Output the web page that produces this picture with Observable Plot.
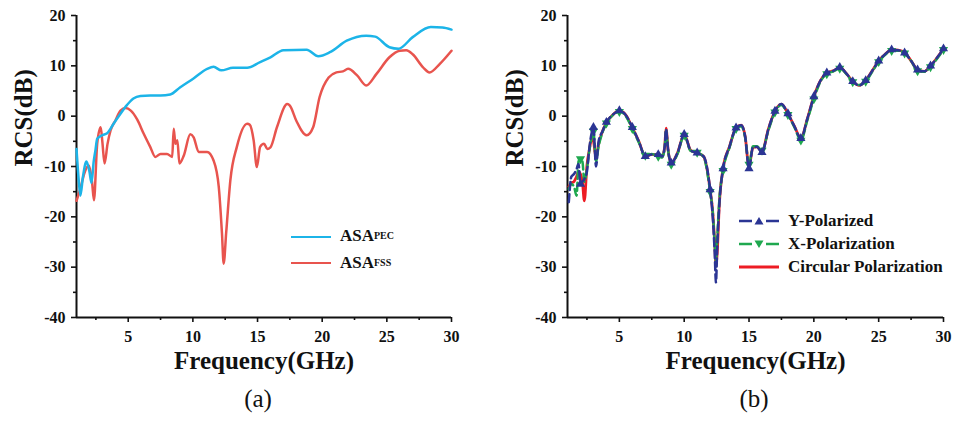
<!DOCTYPE html>
<html><head><meta charset="utf-8">
<script src="https://cdn.jsdelivr.net/npm/d3@7"></script>
<script src="https://cdn.jsdelivr.net/npm/@observablehq/plot@0.6"></script>
<style>
body{margin:0;background:#fff;font-family:"Liberation Serif","Times New Roman",serif;color:#111;}
#wrap{position:relative;width:960px;height:421px;overflow:hidden;}
.panel{position:absolute;top:0;}
.cap{position:absolute;top:384px;font-size:25px;line-height:30px;width:80px;text-align:center;}
.leg{position:absolute;font-weight:bold;font-size:17px;line-height:20px;white-space:nowrap;height:20px;display:flex;align-items:center;}
.leg sub{font-size:10px;vertical-align:-6px;}
.swatch{position:absolute;height:0;}
</style>
</head><body>
<div id="wrap">
  <div class="panel" id="pa" style="left:0"></div>
  <div class="panel" id="pb" style="left:480px"></div>
  <div class="cap" style="left:218px">(a)</div>
  <div class="cap" style="left:714px">(b)</div>

  <div class="swatch" style="left:291px;top:235.5px;width:40px;border-top:2.5px solid #1cb4e8"></div>
  <div class="leg" style="left:340px;top:226px">ASA<sub>PEC</sub></div>
  <div class="swatch" style="left:291px;top:262px;width:40px;border-top:2.5px solid #e8544e"></div>
  <div class="leg" style="left:340px;top:253px">ASA<sub>FSS</sub></div>

  <svg style="position:absolute;left:738px;top:215px" width="44" height="60">
    <line x1="1" x2="41" y1="6" y2="6" stroke="#2b3594" stroke-width="2.5" stroke-dasharray="13,14,13"/>
    <path d="M21,2 L25.5,9.5 L16.5,9.5 Z" fill="#2b3594"/>
    <line x1="1" x2="41" y1="29" y2="29" stroke="#1fa84f" stroke-width="2.5" stroke-dasharray="13,14,13"/>
    <path d="M21,33 L25.5,25.5 L16.5,25.5 Z" fill="#1fa84f"/>
    <line x1="1" x2="41" y1="52" y2="52" stroke="#ed1c24" stroke-width="3"/>
  </svg>
  <div class="leg" style="left:788px;top:211px">Y-Polarized</div>
  <div class="leg" style="left:788px;top:234px">X-Polarization</div>
  <div class="leg" style="left:788px;top:257px">Circular Polarization</div>
</div>
<script>
// ---------- data ----------
const xDomain = [1, 30];
const yDomain = [-40, 20];
const xMajor = [5, 10, 15, 20, 25, 30];
const xMinor = [2.5, 7.5, 12.5, 17.5, 22.5, 27.5];
const yMajor = [-40, -30, -20, -10, 0, 10, 20];
const yMinor = [-35, -25, -15, -5, 5, 15];

// Panel (a)
const pecFreq = [1.0,1.15,1.3,1.5,1.77,2.0,2.16,2.33,2.47,2.6,2.98,3.37,3.88,4.4,4.9,5.4,5.94,6.7,7.5,8.25,9.0,10.05,11.1,11.6,12.2,13.1,14.2,15.2,16.0,17.0,18.8,19.7,20.6,21.9,23.4,24.1,25.2,25.9,27.0,28.4,29.3,30];
const pecVal  = [-6.5,-12,-15.8,-12,-9.0,-11,-13.3,-9,-6.7,-4.5,-3.8,-3.4,-1.45,0.5,2.2,3.5,4.0,4.1,4.1,4.3,5.7,7.5,9.4,9.8,9.1,9.6,9.6,10.75,11.7,13.1,13.2,11.9,12.7,15.0,16.0,15.8,13.7,13.4,15.7,17.7,17.6,17.2];
const fssFreq = [1.0,1.3,1.6,1.95,2.2,2.35,2.6,2.87,3.0,3.17,3.4,3.64,4.0,4.4,4.8,5.2,5.7,6.2,6.7,7.1,7.5,8.0,8.4,8.52,8.65,8.8,8.96,9.3,9.8,10.06,10.45,11.1,11.6,12.0,12.25,12.38,12.58,12.9,13.4,14.2,14.4,14.7,14.95,15.2,15.5,15.75,16.0,16.5,17.3,17.5,18.0,18.8,19.3,19.8,20.5,21.1,21.6,22.0,22.7,23.4,24.2,25.2,26.0,26.5,27.0,27.8,28.3,29.1,30];
const fssVal  = [-16.8,-14.4,-11.4,-9.8,-13,-16.7,-5.5,-2.2,-5.1,-9.4,-5.5,-2.8,-0.9,1.1,1.6,1.1,-0.7,-3.5,-6.1,-8.1,-7.5,-7.5,-8.1,-2.5,-5.5,-4.8,-9.4,-7.8,-3.6,-4.2,-7.1,-7.1,-8.8,-14,-23.3,-29.3,-23,-12.7,-6.1,-1.5,-1.7,-4.8,-10.1,-6.1,-5.5,-6.5,-6.2,-2.2,2.4,2.1,-0.9,-3.8,-2.2,3.8,7.7,8.7,8.9,9.4,8.1,6.1,8.4,11.7,13.0,13.1,12.3,9.7,8.7,10.4,13.0];

// Panel (b)
const bFreq = [1.1,1.3,1.5,1.7,1.85,2,2.15,2.3,2.5,2.7,2.85,3,3.2,3.4,3.7,4,4.5,5,5.5,6,6.5,7,7.5,8,8.3,8.5,8.6,8.75,9,9.5,10,10.5,11,11.5,12,12.2,12.35,12.45,12.55,12.7,13,13.5,14,14.4,14.7,15,15.3,15.6,16,16.5,17,17.5,18,18.5,19,19.5,20,20.5,21,21.5,22,22.5,23,23.5,24,24.5,25,25.5,26,26.5,27,27.5,28,28.5,29,29.5,30];
const yPol = [-17.1,-12,-11.5,-10.5,-9.5,-13.5,-13,-12.5,-11,-6,-3.5,-2.2,-10,-5,-3,-1.2,0.3,1.1,0.2,-2.2,-5,-8.0,-7.6,-7.6,-8,-6,-2.6,-6.5,-9.3,-7.2,-3.6,-6.8,-7.3,-8,-14.6,-20,-27,-33,-26,-18,-10.4,-6,-2.3,-1.8,-4,-10.4,-6.2,-6.1,-7.2,-2.5,1.0,2.4,0.5,-2,-4.4,-0.5,3.9,7,8.6,9,9.7,8.5,6.9,6.1,7.1,9,11.0,12.3,13.2,13.1,12.6,11,9.2,8.9,10,11.6,13.4];
const xPol = [-14.5,-13.5,-14,-15.8,-9,-8.5,-9,-13,-10.5,-6.5,-4.5,-3,-9,-6,-3.2,-1.4,0.2,0.9,0,-2.5,-5.2,-7.8,-7.5,-8,-8.2,-6.2,-2.8,-6.6,-9.6,-7.4,-3.8,-6.9,-7.2,-8.1,-15,-19,-25,-29,-24,-17,-10.8,-6.2,-2.5,-2,-4.2,-9.6,-6,-6,-6.8,-2.8,0.8,2.2,0.3,-2.2,-4.8,-0.8,3.4,6.8,8.4,8.9,9.5,8.4,6.8,6.2,6.9,8.8,10.8,12.2,13.0,13.0,12.5,11,9.0,8.8,9.8,11.4,13.2];
const cPol = [-14,-13.3,-13,-12,-11,-11.5,-13,-16.8,-9.8,-6.5,-4.5,-5,-8.2,-5.5,-3,-1.3,0.3,1.1,0.2,-2.3,-5,-8,-7.6,-7.7,-8.1,-6,-2.4,-6.5,-9.3,-7.2,-3.6,-6.8,-7.3,-8,-14.6,-19,-25,-29.5,-27,-18,-10.4,-6,-2.3,-1.8,-4,-10.1,-6.2,-6.1,-7,-2.5,1.0,2.4,0.5,-2,-4.4,-0.5,3.9,7,8.6,9,9.7,8.5,6.9,6.1,7.1,9,11.0,12.3,13.2,13.1,12.6,11,9.2,8.9,10,11.6,13.4];

// ---------- build ----------
const FONT = '"Liberation Serif","Times New Roman",serif';
const zip = (fs, vs) => fs.map((f, i) => ({f, v: vs[i]}));
const downTriangle = {
  draw(context, size) {
    const s3 = Math.sqrt(3);
    const y = -Math.sqrt(size / (s3 * 3));
    context.moveTo(0, -y * 2);
    context.lineTo(-s3 * y, y);
    context.lineTo(s3 * y, y);
    context.closePath();
  }
};

function axes() {
  const ts = {fontSize: 16, fontWeight: "bold", fontFamily: FONT, fill: "#111", stroke: "#111", strokeWidth: 1.6, label: null, tickFormat: d => String(d)};
  return [
    Plot.axisX({...ts, ticks: xMajor, tickSize: 5, tickPadding: 8}),
    Plot.axisX({ticks: xMinor, tickSize: 3, text: null, label: null, stroke: "#111", strokeWidth: 1.6}),
    Plot.axisY({...ts, ticks: yMajor, tickSize: 5, tickPadding: 6}),
    Plot.axisY({ticks: yMinor, tickSize: 3, text: null, label: null, stroke: "#111", strokeWidth: 1.6}),
    Plot.ruleX([xDomain[0]], {stroke: "#111", strokeWidth: 2}),
    Plot.ruleY([yDomain[0]], {stroke: "#111", strokeWidth: 2}),
    Plot.text(["Frequency(GHz)"], {frameAnchor: "bottom", dy: 51, fontSize: 25, fontWeight: "bold", fontFamily: FONT, fill: "#111"}),
    Plot.text(["RCS(dB)"], {frameAnchor: "left", dx: -53, rotate: -90, fontSize: 25, fontWeight: "bold", fontFamily: FONT, fill: "#111"})
  ];
}

function chart(marginLeft, marginRight, marks) {
  return Plot.plot({
    width: 480, height: 380,
    marginLeft, marginRight, marginTop: 15, marginBottom: 63,
    x: {domain: xDomain}, y: {domain: yDomain},
    style: {fontFamily: FONT, background: "transparent", overflow: "visible"},
    marks: [...axes(), ...marks]
  });
}

const a = chart(76, 29, [
  Plot.line(zip(fssFreq, fssVal), {x: "f", y: "v", stroke: "#e8544e", strokeWidth: 2.5, curve: "monotone-x"}),
  Plot.line(zip(pecFreq, pecVal), {x: "f", y: "v", stroke: "#1cb4e8", strokeWidth: 2.5, curve: "monotone-x"})
]);
document.getElementById("pa").appendChild(a);

const yData = zip(bFreq, yPol), xData = zip(bFreq, xPol), cData = zip(bFreq, cPol);
const isInt = d => Number.isInteger(d.f);
const b = chart(87, 17, [
  Plot.line(cData, {x: "f", y: "v", stroke: "#ed1c24", strokeWidth: 2.8, curve: "monotone-x"}),
  Plot.line(xData, {x: "f", y: "v", stroke: "#1fa84f", strokeWidth: 2.5, strokeDasharray: "8,4", curve: "monotone-x"}),
  Plot.dot(xData, {filter: isInt, x: "f", y: "v", symbol: downTriangle, r: 3.4, fill: "#1fa84f"}),
  Plot.line(yData, {x: "f", y: "v", stroke: "#2b3594", strokeWidth: 2.5, strokeDasharray: "8,4", curve: "monotone-x"}),
  Plot.dot(yData, {filter: isInt, x: "f", y: "v", symbol: "triangle", r: 3.4, fill: "#2b3594"})
]);
document.getElementById("pb").appendChild(b);
</script>
</body></html>
